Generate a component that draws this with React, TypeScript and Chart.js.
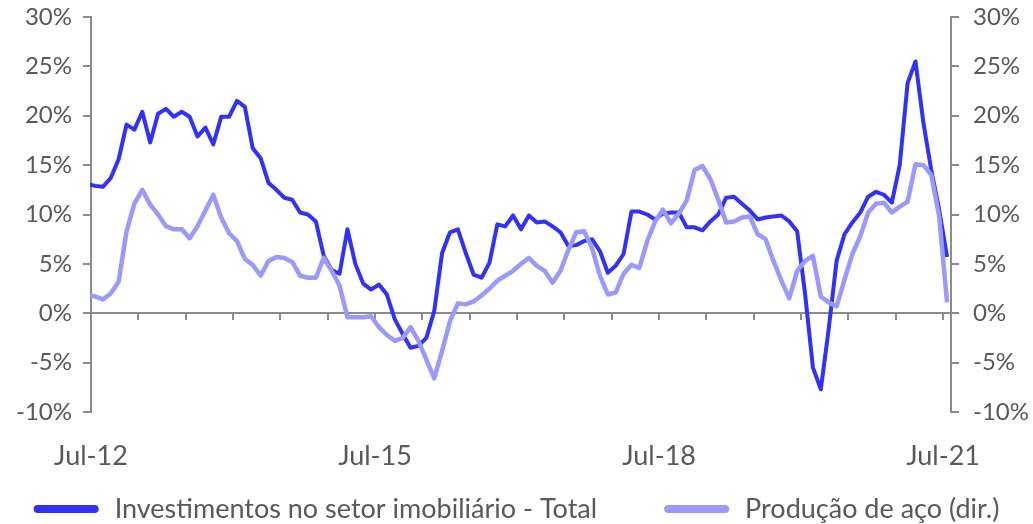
import React, { useEffect, useRef } from 'react';
import { Chart, registerables } from 'chart.js';

Chart.register(...registerables);

// Monthly series, first value = Jun-12, last value = Jul-21 (110 months)
const seriesNames = ['Investimentos no setor imobiliário - Total', 'Produção de aço (dir.)'];

const investimentos = [
  13.1,
  12.9, 12.8, 13.7, 15.6, 19.1, 18.6, 20.4, 17.3, 20.2, 20.7,
  19.9, 20.4, 19.9, 17.9, 18.8, 17.1, 19.9, 19.9, 21.5, 20.9,
  16.7, 15.7, 13.2, 12.5, 11.7, 11.5, 10.2, 10.0, 9.3, 5.8,
  4.4, 4.0, 8.5, 5.0, 3.0, 2.4, 2.9, 1.9, -0.6, -2.1,
  -3.5, -3.3, -2.5, 0.2, 6.1, 8.2, 8.5, 6.1, 3.9, 3.6,
  5.1, 9.0, 8.8, 9.9, 8.5, 9.9, 9.2, 9.3, 8.8, 8.2,
  6.8, 6.9, 7.3, 7.5, 6.3, 4.1, 4.8, 6.0, 10.3, 10.3,
  10.0, 9.5, 10.1, 10.2, 10.2, 8.7, 8.7, 8.4, 9.3, 10.0,
  11.7, 11.8, 11.1, 10.4, 9.5, 9.7, 9.8, 9.9, 9.3, 8.3,
  2.0, -5.5, -7.7, -1.6, 5.3, 8.0, 9.2, 10.2, 11.8, 12.3,
  12.0, 11.2, 15.0, 23.3, 25.5, 19.3, 14.5, 10.5, 5.7,
];

const producaoAco = [
  1.9,
  1.7, 1.4, 2.0, 3.2, 8.3, 11.1, 12.5, 11.0, 10.0, 8.8,
  8.5, 8.5, 7.6, 8.8, 10.4, 12.0, 9.7, 8.1, 7.3, 5.5,
  4.9, 3.8, 5.3, 5.7, 5.6, 5.2, 3.8, 3.6, 3.6, 5.6,
  4.3, 2.8, -0.4, -0.4, -0.4, -0.3, -1.4, -2.2, -2.8, -2.5,
  -1.4, -2.8, -4.7, -6.6, -3.8, -0.8, 1.0, 0.9, 1.2, 1.8,
  2.5, 3.3, 3.8, 4.3, 5.0, 5.6, 4.8, 4.3, 3.1, 4.3,
  6.4, 8.2, 8.3, 6.6, 3.8, 1.9, 2.1, 4.0, 4.9, 4.6,
  7.3, 9.3, 10.5, 9.1, 10.1, 11.4, 14.5, 14.9, 13.6, 11.5,
  9.2, 9.3, 9.7, 9.8, 8.0, 7.5, 5.3, 3.3, 1.5, 4.3,
  5.3, 5.8, 1.7, 1.1, 0.7, 3.4, 6.0, 7.8, 10.2, 11.1,
  11.2, 10.2, 10.8, 11.3, 15.1, 15.0, 14.0, 9.8, 1.1,
];

// x axis in months since Jul-12 (tick marks every 6 months, labels every 36)
const xLabelValues = [0, 36, 72, 108];
const xLabels = ['Jul-12', 'Jul-15', 'Jul-18', 'Jul-21'];
const xMinorTicks = [0, 6, 12, 18, 24, 30, 36, 42, 48, 54, 60, 66, 72, 78, 84, 90, 96, 102, 108];
const xMax = 109;

const yMin = -10;
const yMax = 30;
const yStep = 5;

const DARK = '#3030ff';
const LIGHT = '#9999ff';
const AXIS = '#8c8c8c';
const TEXT = '#595959';
const FONT = 'Lato';

const W = 1033;
const H = 524;
const PLOT_TOP = 17;
const PLOT_BOTTOM = 412;
const LEGEND_Y = 509;

// each monthly value sits in the middle of its month
const toPoints = (vals: number[]) => vals.map((v, i) => ({ x: i - 0.5, y: v }));

const zeroAxisPlugin = {
  id: 'zeroAxis',
  beforeDatasetsDraw(chart: any) {
    const { ctx, chartArea, scales } = chart;
    const x = scales.x;
    const y = scales.y;
    const y0 = Math.round(y.getPixelForValue(0));
    ctx.save();
    ctx.strokeStyle = AXIS;
    ctx.lineWidth = 2;
    ctx.beginPath();
    ctx.moveTo(chartArea.left, y0);
    ctx.lineTo(chartArea.right, y0);
    ctx.stroke();
    ctx.beginPath();
    xMinorTicks.forEach((v) => {
      const px = Math.round(x.getPixelForValue(v));
      ctx.moveTo(px, y0);
      ctx.lineTo(px, y0 + 7);
    });
    ctx.stroke();
    ctx.restore();
  },
};

const legendPlugin = {
  id: 'lineLegend',
  afterDraw(chart: any) {
    const { ctx } = chart;
    const markW = 65;
    const markH = 8;
    const gapText = 16;
    const gapItem = 67;
    ctx.save();
    ctx.font = `27px ${FONT}`;
    const items = chart.data.datasets.map((d: any) => ({
      text: d.label,
      color: d.borderColor,
      w: ctx.measureText(d.label).width,
    }));
    const total =
      items.reduce((s: number, it: any) => s + markW + gapText + it.w, 0) + gapItem * (items.length - 1);
    let cx = (W - total) / 2;
    items.forEach((it: any) => {
      ctx.fillStyle = it.color;
      ctx.beginPath();
      (ctx as any).roundRect(cx, LEGEND_Y - markH / 2, markW, markH, markH / 2);
      ctx.fill();
      cx += markW + gapText;
      ctx.fillStyle = TEXT;
      ctx.textBaseline = 'middle';
      ctx.textAlign = 'left';
      ctx.fillText(it.text, cx, LEGEND_Y);
      cx += it.w + gapItem;
    });
    ctx.restore();
  },
};

export default function App() {
  const canvasRef = useRef<HTMLCanvasElement | null>(null);

  useEffect(() => {
    if (!canvasRef.current) return;
    const yAxisCommon = (position: 'left' | 'right', width: number, pad: number) => ({
      type: 'linear' as const,
      position,
      min: yMin,
      max: yMax,
      afterFit: (s: any) => {
        s.width = width;
        s.paddingTop = 0;
        s.paddingBottom = 0;
      },
      grid: {
        display: true,
        drawOnChartArea: false,
        drawTicks: true,
        tickLength: 8,
        color: AXIS,
        lineWidth: 2,
      },
      border: { display: true, color: AXIS, width: 2 },
      ticks: {
        stepSize: yStep,
        padding: pad,
        color: TEXT,
        font: { family: FONT, size: 24 },
        callback: (v: any) => `${v}%`,
      },
    });

    const chart = new Chart(canvasRef.current, {
      type: 'line',
      data: {
        datasets: [
          {
            label: seriesNames[0],
            data: toPoints(investimentos),
            yAxisID: 'y',
            borderColor: DARK,
            backgroundColor: DARK,
            borderWidth: 4,
            pointRadius: 0,
            borderJoinStyle: 'round',
            tension: 0,
            clip: 1,
            order: 1,
          },
          {
            label: seriesNames[1],
            data: toPoints(producaoAco),
            yAxisID: 'y1',
            borderColor: LIGHT,
            backgroundColor: LIGHT,
            borderWidth: 4.5,
            pointRadius: 0,
            borderJoinStyle: 'round',
            tension: 0,
            clip: 1,
            order: 0,
          },
        ],
      },
      options: {
        animation: false,
        responsive: false,
        maintainAspectRatio: false,
        layout: { padding: { top: PLOT_TOP, left: 0, right: 0, bottom: 0 } },
        plugins: {
          tooltip: { enabled: false },
          legend: { display: false },
        },
        scales: {
          x: {
            type: 'linear',
            min: 0,
            max: xMax,
            afterBuildTicks: (s: any) => {
              s.ticks = xLabelValues.map((v) => ({ value: v }));
            },
            afterFit: (s: any) => {
              s.height = H - PLOT_BOTTOM;
              s.paddingTop = 0;
              s.paddingBottom = 0;
            },
            grid: { display: false, drawTicks: false },
            border: { display: false },
            ticks: {
              autoSkip: false,
              maxRotation: 0,
              padding: 28,
              color: TEXT,
              font: { family: FONT, size: 27 },
              callback: (_v: any, i: number) => xLabels[i],
            },
          },
          y: yAxisCommon('left', 91, 11),
          y1: yAxisCommon('right', 82, 14),
        },
      },
      plugins: [zeroAxisPlugin, legendPlugin],
    } as any);
    return () => chart.destroy();
  }, []);

  return (
    <div style={{ position: 'absolute', left: 0, top: 0, width: W, height: H, background: '#fff' }}>
      <canvas ref={canvasRef} width={W} height={H} />
    </div>
  );
}
